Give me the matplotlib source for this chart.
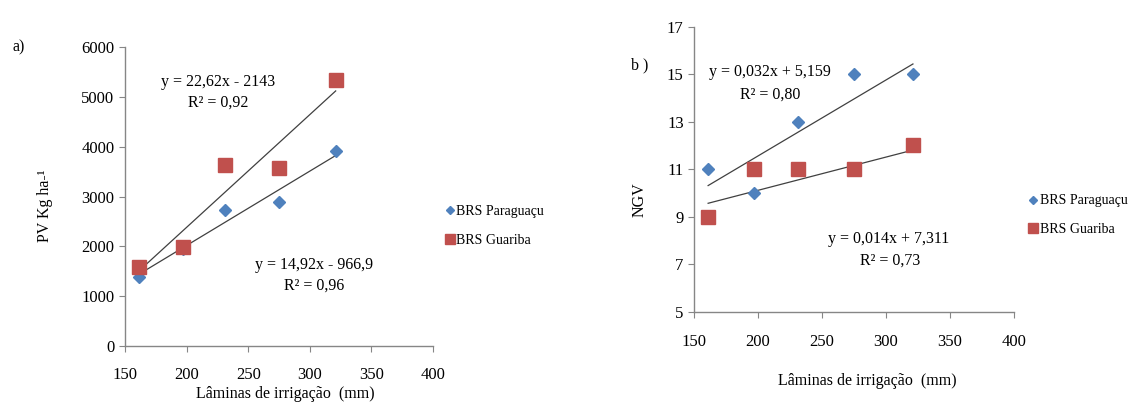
import matplotlib.pyplot as plt
import numpy as np

plt.rcParams['font.family'] = ['Liberation Serif', 'DejaVu Serif']

# irrigation depths (mm)
laminas = [161, 197, 231, 275, 321]

# a) PV (kg/ha)
pv_paraguacu = [1385, 1946, 2723, 2884, 3919]
pv_guariba = [1592, 1993, 3639, 3579, 5338]
pv_fit_paraguacu = (14.92, -966.9)
pv_fit_guariba = (22.62, -2143)

# b) NGV
ngv_paraguacu = [11, 10, 13, 15, 15]
ngv_guariba = [9, 11, 11, 11, 12]
ngv_fit_paraguacu = (0.032, 5.159)
ngv_fit_guariba = (0.014, 7.311)

BLUE = '#4F81BD'
RED = '#C0504D'
AXC = '#868686'
FS = 11.5

fig = plt.figure(figsize=(11.3, 4.03), dpi=100)
fig.patch.set_facecolor('white')


def style_axes(ax):
  for s in ['top', 'right']:
    ax.spines[s].set_visible(False)
  for s in ['left', 'bottom']:
    ax.spines[s].set_color(AXC)
    ax.spines[s].set_linewidth(1.0)
  ax.tick_params(colors=AXC, labelcolor='black', labelsize=12,
                 length=4, direction='out')


def trend(ax, fit):
  x = np.array([laminas[0], laminas[-1]])
  ax.plot(x, fit[0] * x + fit[1], color='#404040', lw=0.9, zorder=2)


def scatter(ax, ya, yb):
  ax.plot(laminas, ya, 'D', color=BLUE, ms=6, mec=BLUE, zorder=3,
          label='BRS Paraguaçu')
  ax.plot(laminas, yb, 's', color=RED, ms=9.5, mec=RED, zorder=3,
          label='BRS Guariba')


def add_legend(ax, x, y):
  ax.legend(loc='center left', bbox_to_anchor=(x / 1130, 1 - y / 403),
            bbox_transform=fig.transFigure, frameon=False, fontsize=10,
            handletextpad=0.1, labelspacing=1.1, handlelength=0.8,
            markerscale=0.7, borderpad=0, borderaxespad=0)


def txt(x, y, s, **kw):
  fig.text(x / 1130, 1 - y / 403, s, ha='center', va='center', fontsize=FS, **kw)


# ---- panel a ----
ax1 = fig.add_axes([0.1106, 0.1414, 0.2726, 0.742])
scatter(ax1, pv_paraguacu, pv_guariba)
trend(ax1, pv_fit_guariba)
trend(ax1, pv_fit_paraguacu)
ax1.set_xlim(150, 400)
ax1.set_ylim(0, 6000)
ax1.set_xticks(range(150, 401, 50))
ax1.set_yticks(range(0, 6001, 1000))
style_axes(ax1)
ax1.tick_params(axis='x', pad=11)
add_legend(ax1, 444, 226)

txt(218, 82, 'y = 22,62x - 2143')
txt(218, 103, 'R² = 0,92')
txt(314, 265, 'y = 14,92x - 966,9')
txt(314, 286, 'R² = 0,96')
txt(19, 47, 'a)')
txt(45, 206, 'PV Kg ha-¹', rotation=90)
txt(285, 394, 'Lâminas de irrigação  (mm)')

# ---- panel b ----
ax2 = fig.add_axes([0.6142, 0.2266, 0.2832, 0.7071])
scatter(ax2, ngv_paraguacu, ngv_guariba)
trend(ax2, ngv_fit_paraguacu)
trend(ax2, ngv_fit_guariba)
ax2.set_xlim(150, 400)
ax2.set_ylim(5, 17)
ax2.set_xticks(range(150, 401, 50))
ax2.set_yticks(range(5, 18, 2))
style_axes(ax2)
ax2.tick_params(axis='x', pad=12)
add_legend(ax2, 1027, 215)

txt(770, 72, 'y = 0,032x + 5,159')
txt(770, 95, 'R² = 0,80')
txt(889, 239, 'y = 0,014x + 7,311')
txt(890, 261, 'R² = 0,73')
txt(640, 65, 'b )')
txt(640, 200, 'NGV', rotation=90)
txt(867, 381, 'Lâminas de irrigação  (mm)')

fig.savefig('out.png', dpi=100)
